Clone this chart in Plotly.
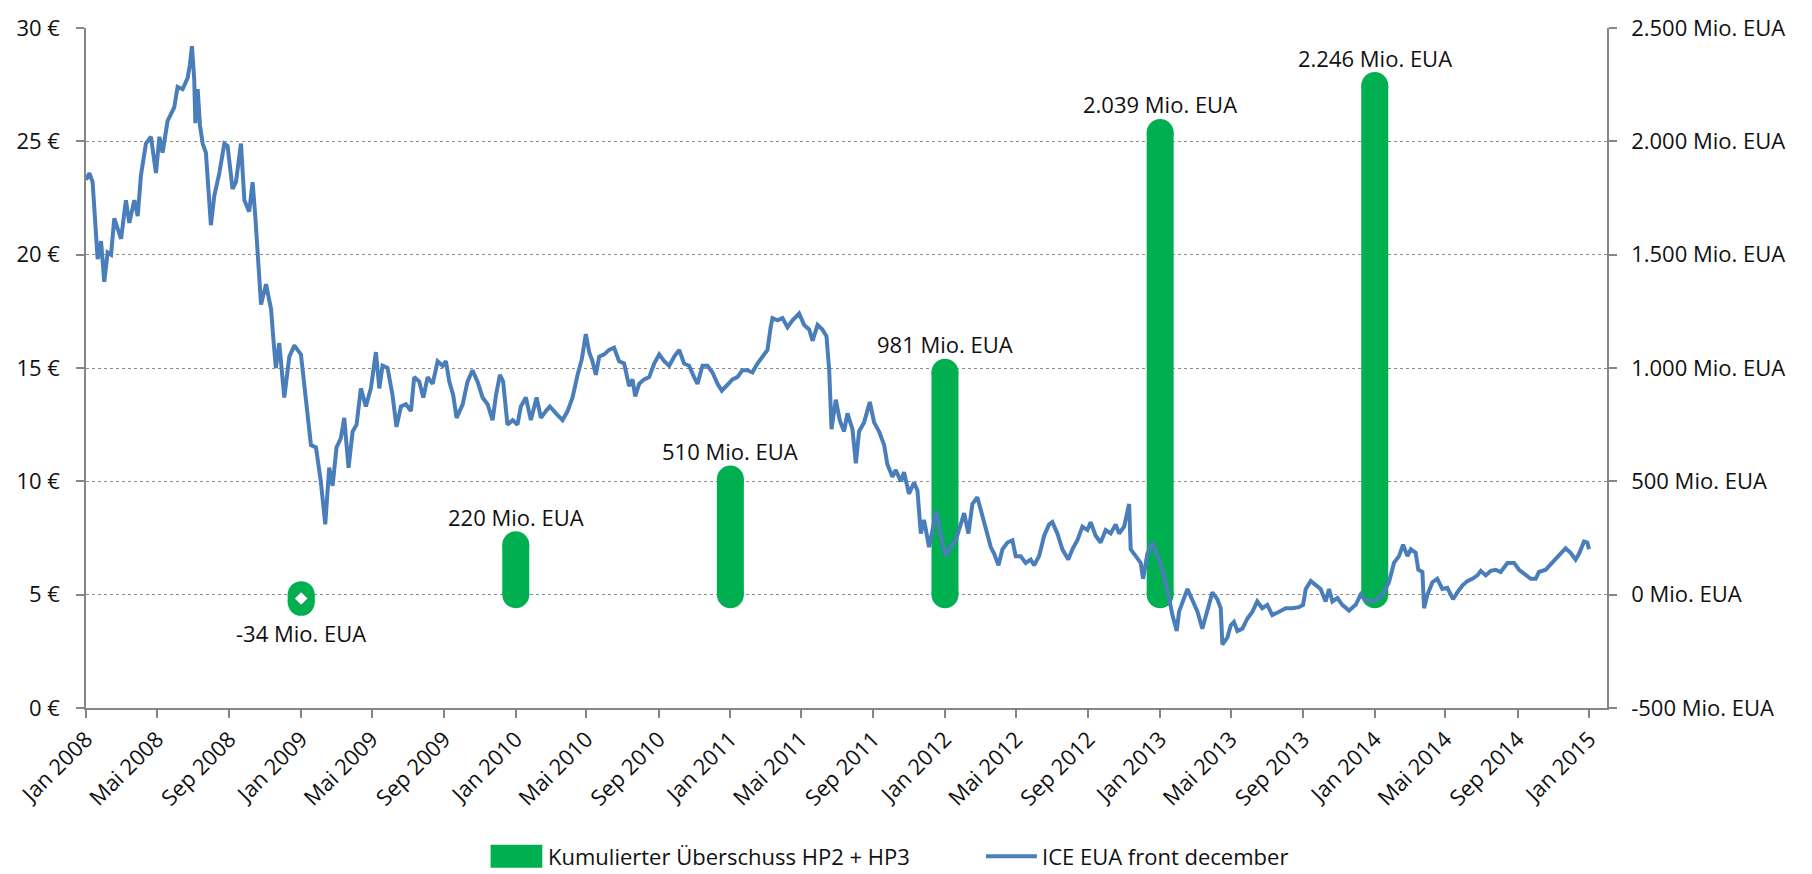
import numpy as np
import pandas as pd
import plotly.graph_objects as go

# ---------------- data ----------------
# ICE EUA front december: x = months since Jan 2008, y = price in EUR
price_month = [
    0.00, 0.19, 0.37, 0.56, 0.65, 0.84, 1.02, 1.21, 1.40, 1.58, 1.96, 2.23, 2.42, 2.70, 2.89,
    3.07, 3.35, 3.63, 3.91, 4.10, 4.28, 4.56, 4.93, 5.12, 5.40, 5.68, 5.81, 5.92, 6.05, 6.11,
    6.24, 6.37, 6.52, 6.70, 6.98, 7.17, 7.45, 7.73, 7.91, 8.19, 8.38, 8.66, 8.85, 9.12, 9.31,
    9.46, 9.59, 9.78, 10.06, 10.34, 10.48, 10.61, 10.80, 11.08, 11.36, 11.64, 12.01,
    12.29, 12.57, 12.85, 13.12, 13.37, 13.59, 13.78, 14.00, 14.24, 14.43, 14.67, 14.90, 15.12,
    15.36, 15.64, 15.92, 16.20, 16.39, 16.57, 16.85, 17.13, 17.35, 17.60, 17.88, 18.16, 18.34,
    18.62, 18.85, 19.09, 19.37, 19.65, 19.93, 20.11, 20.30, 20.52, 20.71, 21.05, 21.32, 21.60,
    21.88, 22.16, 22.44, 22.72, 22.91, 23.13, 23.31, 23.55, 23.84, 24.11, 24.30, 24.58, 24.86,
    25.18, 25.42, 25.70, 25.92, 26.26, 26.63, 26.91, 27.19, 27.47, 27.71, 27.93, 28.12, 28.30,
    28.49,
    28.68, 28.96, 29.23, 29.51, 29.79, 30.07, 30.35, 30.54, 30.69, 30.91, 31.19, 31.47, 31.75,
    32.03, 32.31, 32.59, 32.87, 33.15, 33.42, 33.70, 33.98, 34.17, 34.45, 34.73, 35.01, 35.29,
    35.53, 35.85, 36.13, 36.40, 36.68, 36.96, 37.24, 37.52, 37.80, 38.08, 38.26, 38.36, 38.64,
    38.92, 39.20, 39.48, 39.85, 40.13, 40.41, 40.60, 40.88, 41.15, 41.38, 41.53, 41.66, 41.90,
    42.12, 42.36, 42.55, 42.83, 43.02, 43.20, 43.48, 43.80, 44.04, 44.32,
    44.60, 44.78, 45.06, 45.25, 45.53, 45.71, 45.99, 46.27, 46.46, 46.65, 46.83, 47.11, 47.30,
    47.52, 47.76, 48.04, 48.32, 48.60, 48.88, 49.07, 49.31, 49.53, 49.81, 50.00, 50.28, 50.56,
    50.75, 50.99, 51.21, 51.49, 51.77, 51.95, 52.23, 52.51, 52.79, 52.98, 53.26, 53.54, 53.82,
    54.00, 54.28, 54.56, 54.89, 55.12, 55.40, 55.68, 55.96, 56.14, 56.42, 56.70, 56.98, 57.26,
    57.54, 57.73, 58.01, 58.29, 58.38, 58.66, 58.94, 59.07, 59.31, 59.59, 59.87, 60.15, 60.43,
    60.71, 60.95,
    61.08, 61.55, 61.83, 62.11, 62.38, 62.66, 62.94, 63.22, 63.41, 63.50, 63.78, 63.97, 64.15,
    64.34, 64.62, 64.90, 65.18, 65.45, 65.73, 66.01, 66.29, 66.67, 67.04, 67.41, 67.78, 68.01,
    68.16, 68.44, 68.71, 68.99, 69.27, 69.46, 69.65, 69.93, 70.20, 70.58, 70.95, 71.23, 71.51,
    71.79, 72.07, 72.44, 72.81, 73.09, 73.37, 73.60, 73.84, 74.03, 74.30, 74.45, 74.68, 74.77,
    74.96, 75.24, 75.51, 75.79, 76.07, 76.39, 76.63, 76.91, 77.19, 77.47, 77.75, 77.94, 78.22,
    78.50, 78.77, 79.05, 79.43, 79.80, 80.08, 80.45, 80.73, 81.01, 81.19, 81.57, 81.94, 82.31,
    82.68, 82.96, 83.24, 83.43, 83.71, 83.89, 83.99,
]
price_eur = [
    23.3, 23.6, 23.2, 21.0, 19.8, 20.6, 18.8, 20.1, 20.0, 21.6, 20.7, 22.4, 21.4, 22.4, 21.7,
    23.5, 24.9, 25.2, 23.6, 25.2, 24.5, 25.9, 26.5, 27.4, 27.3, 27.8, 28.4, 29.2, 27.7, 25.8,
    27.3, 25.7, 24.9, 24.5, 21.3, 22.6, 23.6, 24.9, 24.8, 22.9, 23.2, 24.9, 22.4, 21.9, 23.2,
    21.7, 20.0, 17.8, 18.7, 17.6, 16.2, 15.0, 16.1, 13.7, 15.5, 16.0, 15.6,
    13.4, 11.6, 11.5, 10.0, 8.1, 10.6, 9.8, 11.5, 11.9, 12.8, 10.6, 12.2, 12.5,
    14.1, 13.3, 14.1, 15.7, 14.1, 15.1, 15.0, 13.8, 12.4, 13.3, 13.4, 13.1, 14.6,
    14.4, 13.7, 14.6, 14.3, 15.3, 15.1, 15.3, 14.4, 13.8, 12.8, 13.4, 14.4, 14.9,
    14.4, 13.7, 13.4, 12.7, 13.8, 14.7, 14.4, 12.5, 12.7, 12.5, 13.3, 13.7, 12.7,
    13.7, 12.8, 13.1, 13.3, 13.0, 12.7, 13.1, 13.7, 14.7, 15.4, 16.5, 15.7, 15.3,
    14.7,
    15.5, 15.6, 15.8, 15.9, 15.3, 15.2, 14.2, 14.5, 13.75, 14.3, 14.5, 14.6, 15.2,
    15.6, 15.3, 15.1, 15.5, 15.8, 15.2, 15.1, 14.6, 14.3, 15.1, 15.1, 14.8, 14.3,
    14.0, 14.3, 14.5, 14.6, 14.9, 14.9, 14.8, 15.2, 15.5, 15.8, 16.8, 17.2, 17.1,
    17.2, 16.8, 17.1, 17.4, 16.9, 16.7, 16.2, 16.9, 16.7, 16.4, 14.9, 12.3, 13.6,
    12.7, 12.2, 13.0, 12.3, 10.8, 12.2, 12.6, 13.5, 12.6, 12.2,
    11.6, 10.75, 10.2, 10.5, 10.0, 10.4, 9.45, 9.95, 9.6, 7.7, 8.3, 7.1, 7.85,
    8.7, 7.6, 6.7, 7.1, 7.4, 8.1, 8.6, 7.7, 9.0, 9.3, 8.7, 7.85, 7.1,
    6.8, 6.3, 7.0, 7.3, 7.4, 6.7, 6.7, 6.4, 6.55, 6.3, 6.7, 7.6, 8.1,
    8.2, 7.7, 7.0, 6.55, 7.0, 7.4, 8.0, 7.85, 8.2, 7.6, 7.3, 7.85, 7.7,
    8.1, 7.7, 8.0, 9.0, 7.0, 6.7, 6.4, 5.7, 6.8, 7.3, 6.7, 6.1, 5.2,
    4.1, 3.4,
    4.25, 5.25, 4.7, 4.25, 3.5, 4.25, 5.1, 4.8, 4.4, 2.8, 3.1, 3.65, 3.8,
    3.4, 3.5, 3.95, 4.25, 4.7, 4.4, 4.55, 4.1, 4.25, 4.4, 4.4, 4.45, 4.55,
    5.25, 5.6, 5.4, 5.25, 4.7, 5.25, 4.7, 4.85, 4.55, 4.3, 4.55, 5.0, 4.75,
    4.7, 4.75, 5.0, 5.55, 6.4, 6.7, 7.2, 6.7, 7.0, 6.85, 6.1, 6.0, 4.4,
    5.0, 5.55, 5.7, 5.25, 5.3, 4.8, 5.1, 5.4, 5.6, 5.7, 5.85, 6.05, 5.85,
    6.05, 6.1, 6.0, 6.4, 6.4, 6.1, 5.85, 5.7, 5.7, 6.0, 6.1, 6.4, 6.7,
    7.05, 6.85, 6.55, 6.8, 7.35, 7.3, 7.0,
]

# Kumulierter Überschuss HP2 + HP3 (Mio. EUA)
surplus_dates = ["2009-01-01", "2010-01-01", "2011-01-01", "2012-01-01", "2013-01-01", "2014-01-01"]
surplus_mio = [-34, 220, 510, 981, 2039, 2246]
surplus_labels = ["-34 Mio. EUA", "220 Mio. EUA", "510 Mio. EUA", "981 Mio. EUA",
                  "2.039 Mio. EUA", "2.246 Mio. EUA"]

# axis ticks
x_tickvals = ["2008-01-01", "2008-05-01", "2008-09-01", "2009-01-01", "2009-05-01", "2009-09-01",
              "2010-01-01", "2010-05-01", "2010-09-01", "2011-01-01", "2011-05-01", "2011-09-01",
              "2012-01-01", "2012-05-01", "2012-09-01", "2013-01-01", "2013-05-01", "2013-09-01",
              "2014-01-01", "2014-05-01", "2014-09-01", "2015-01-01"]
x_ticktext = ["Jan 2008", "Mai 2008", "Sep 2008", "Jan 2009", "Mai 2009", "Sep 2009",
              "Jan 2010", "Mai 2010", "Sep 2010", "Jan 2011", "Mai 2011", "Sep 2011",
              "Jan 2012", "Mai 2012", "Sep 2012", "Jan 2013", "Mai 2013", "Sep 2013",
              "Jan 2014", "Mai 2014", "Sep 2014", "Jan 2015"]
eur_tickvals = [0, 5, 10, 15, 20, 25, 30]
eur_ticktext = ["0 €", "5 €", "10 €", "15 €", "20 €", "25 €", "30 €"]
mio_tickvals = [-500, 0, 500, 1000, 1500, 2000, 2500]
mio_ticktext = ["-500 Mio. EUA", "0 Mio. EUA", "500 Mio. EUA", "1.000 Mio. EUA",
                "1.500 Mio. EUA", "2.000 Mio. EUA", "2.500 Mio. EUA"]

legend_names = ["Kumulierter Überschuss HP2 + HP3", "ICE EUA front december"]

# ---------------- styling ----------------
GREEN = "#00B050"
BLUE = "#4A7EBB"
AXIS = "#868686"
TEXT = "#111111"
FONT = "Open Sans"
FS = 22
BAR_W = 27

price_dates = pd.Timestamp("2008-01-01") + pd.to_timedelta(np.array(price_month) * 30.4375, unit="D")

bx, by = [], []
for d, v in zip(surplus_dates, surplus_mio):
    bx += [d, d, None]
    by += [0, v, None]

fig = go.Figure()
fig.add_trace(go.Scatter(
    x=bx, y=by, mode="lines+markers", yaxis="y", xaxis="x",
    line=dict(color=GREEN, width=BAR_W),
    marker=dict(color=GREEN, size=BAR_W, line=dict(width=0)),
    name=legend_names[0], showlegend=False, hoverinfo="skip", cliponaxis=False,
))
# white diamond in the negative (-34) bar
neg = [(d, v) for d, v in zip(surplus_dates, surplus_mio) if v < 0]
fig.add_trace(go.Scatter(
    x=[d for d, v in neg], y=[v / 2 for d, v in neg], mode="markers", yaxis="y",
    marker=dict(symbol="diamond", color="white", size=10, line=dict(color="#6a6a6a", width=0.5)),
    showlegend=False, hoverinfo="skip",
))
fig.add_trace(go.Scatter(
    x=price_dates, y=price_eur, mode="lines", yaxis="y2", xaxis="x",
    line=dict(color=BLUE, width=4),
    name=legend_names[1], showlegend=False,
))

annotations = []
for d, v, t in zip(surplus_dates, surplus_mio, surplus_labels):
    annotations.append(dict(
        x=d, y=v, xref="x", yref="y", text=t, showarrow=False,
        xanchor="center", yanchor="middle", yshift=28 if v >= 0 else -31,
        font=dict(family=FONT, size=FS, color=TEXT),
    ))

# custom legend (paper coordinates)
leg_y = -0.218
shapes = [
    dict(type="rect", xref="paper", yref="paper", x0=0.266, x1=0.300, y0=leg_y - 0.017, y1=leg_y + 0.017,
         fillcolor=GREEN, line=dict(width=0)),
    dict(type="line", xref="paper", yref="paper", x0=0.5917, x1=0.6252, y0=leg_y, y1=leg_y,
         line=dict(color=BLUE, width=4)),
]
annotations += [
    dict(x=0.3025, y=leg_y, xref="paper", yref="paper", text=legend_names[0], showarrow=False,
         xanchor="left", yanchor="middle", font=dict(family=FONT, size=FS, color=TEXT)),
    dict(x=0.6272, y=leg_y, xref="paper", yref="paper", text=legend_names[1], showarrow=False,
         xanchor="left", yanchor="middle", font=dict(family=FONT, size=FS, color=TEXT)),
]

tickfont = dict(family=FONT, size=FS, color=TEXT)
fig.update_layout(
    width=1812, height=874,
    margin=dict(l=86, r=205, t=21, b=166),
    paper_bgcolor="white", plot_bgcolor="white",
    showlegend=False,
    xaxis=dict(
        type="date", range=["2008-01-01", "2015-01-31"],
        tickmode="array", tickvals=x_tickvals, ticktext=x_ticktext, tickangle=-45,
        ticks="outside", ticklen=8, tickcolor=AXIS, tickwidth=1.5,
        showline=True, linecolor=AXIS, linewidth=1.5, showgrid=False, zeroline=False,
        tickfont=tickfont,
    ),
    yaxis=dict(
        side="right", range=[-500, 2500],
        tickmode="array", tickvals=mio_tickvals, ticktext=mio_ticktext,
        ticks="outside", ticklen=8, tickcolor=AXIS, tickwidth=1.5, ticklabelstandoff=10,
        showline=True, linecolor=AXIS, linewidth=1.5,
        showgrid=True, gridcolor="#8c8c8c", griddash="dot", gridwidth=1, zeroline=False,
        tickfont=tickfont,
    ),
    yaxis2=dict(
        overlaying="y", side="left", range=[0, 30],
        tickmode="array", tickvals=eur_tickvals, ticktext=eur_ticktext,
        ticks="outside", ticklen=8, tickcolor=AXIS, tickwidth=1.5, ticklabelstandoff=12,
        showline=True, linecolor=AXIS, linewidth=1.5, showgrid=False, zeroline=False,
        tickfont=tickfont,
    ),
    annotations=annotations,
    shapes=shapes,
)

fig.write_html("out.html")
